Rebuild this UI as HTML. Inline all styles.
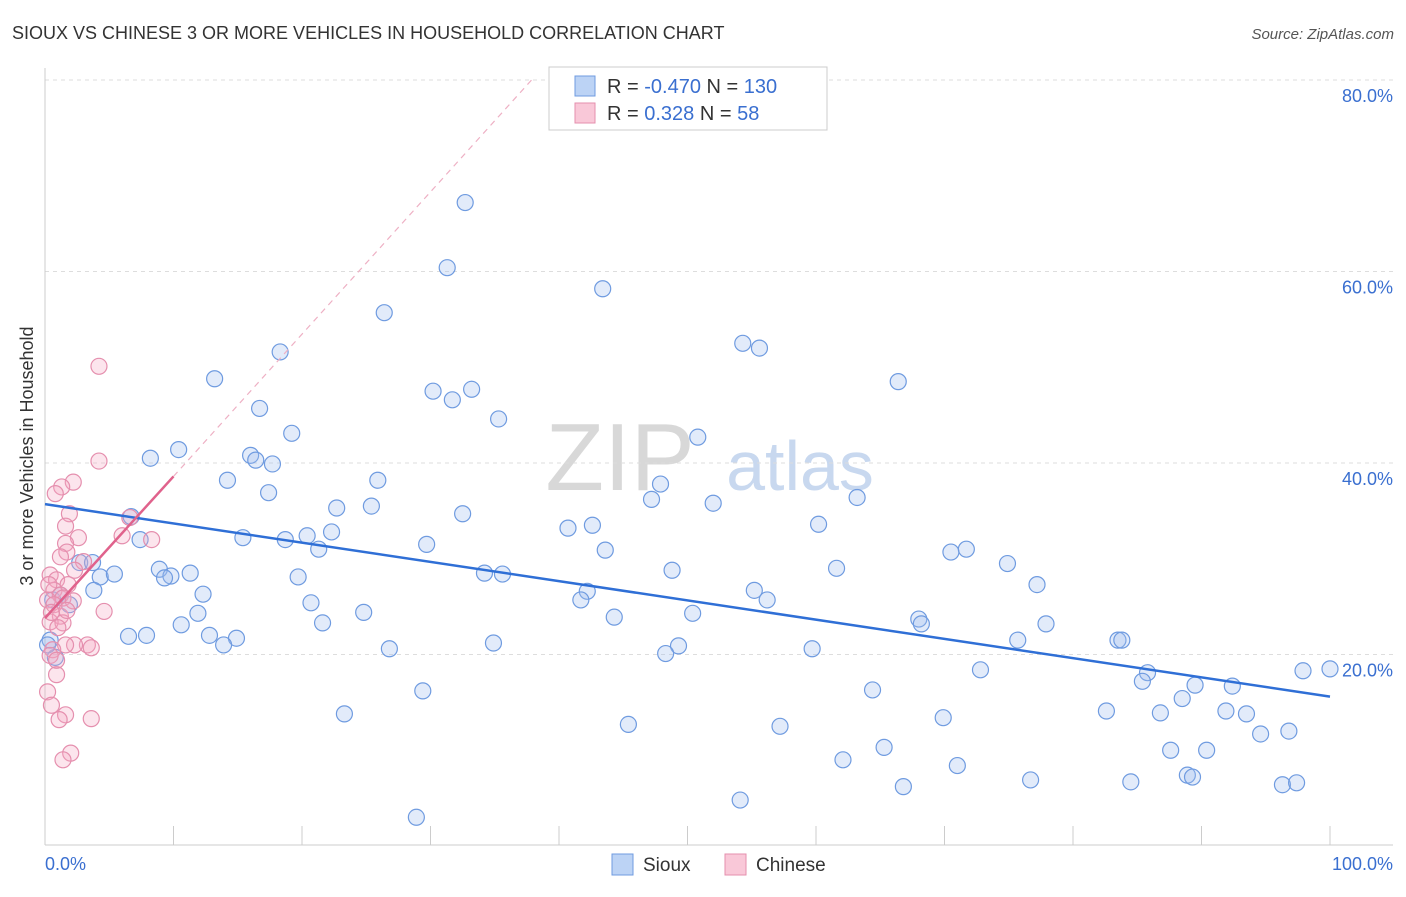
<!DOCTYPE html>
<html><head><meta charset="utf-8">
<style>
body{margin:0;background:#fff;font-family:"Liberation Sans",sans-serif;}
svg text{font-family:"Liberation Sans",sans-serif;}
</style></head>
<body>
<svg id="chart" width="1406" height="892" viewBox="0 0 1406 892" xmlns="http://www.w3.org/2000/svg">
<text x="12" y="39" font-size="18" fill="#333">SIOUX VS CHINESE 3 OR MORE VEHICLES IN HOUSEHOLD CORRELATION CHART</text>
<text x="1394" y="39" font-size="15" fill="#555" text-anchor="end" font-style="italic">Source: ZipAtlas.com</text>
<text transform="translate(33,456) rotate(-90)" font-size="18" fill="#333" text-anchor="middle">3 or more Vehicles in Household</text>
<g>
<text x="620" y="490" font-size="96" fill="#d8d8d8" font-family="Liberation Serif" text-anchor="middle">ZIP</text>
<text x="800" y="490" font-size="70" fill="#c8d8ef" text-anchor="middle">atlas</text>
</g>
<g id="grid"></g>
<g id="axes"></g>
<g id="pts"></g>
<g id="trend"></g>
<g>
<rect x="549" y="67" width="278" height="63" fill="#fff" stroke="#ccc"/>
<rect x="575" y="76" width="20" height="20" fill="#bcd3f5" stroke="#6f9be0"/>
<rect x="575" y="103" width="20" height="20" fill="#f9c8d8" stroke="#e58fae"/>
<text x="607" y="93" font-size="20" fill="#333">R = <tspan fill="#3a6fd0">-0.470</tspan>   N = <tspan fill="#3a6fd0">130</tspan></text>
<text x="607" y="120" font-size="20" fill="#333">R =  <tspan fill="#3a6fd0"> 0.328</tspan>   N =  <tspan fill="#3a6fd0"> 58</tspan></text>
</g>
<g>
<rect x="612" y="854" width="21" height="21" fill="#bcd3f5" stroke="#6f9be0"/>
<text x="643" y="871" font-size="19" fill="#333">Sioux</text>
<rect x="725" y="854" width="21" height="21" fill="#f9c8d8" stroke="#e58fae"/>
<text x="756" y="871" font-size="19" fill="#333">Chinese</text>
</g>
</svg>
<script>
const yTicks=[20,40,60,80];
const yTickLabels=["20.0%","40.0%","60.0%","80.0%"];
const xTicks=[0,10,20,30,40,50,60,70,80,90,100];
const xEndLabels=["0.0%","100.0%"];
const siouxX=[32.7,31.3,43.4,26.4,18.3,54.3,55.6,13.2,66.4,30.2,33.2,31.7,16.7,35.3,19.2,50.8,10.4,8.2,16.0,16.4,17.7,14.2,25.9,17.4,47.9,47.2,63.2,52.0,6.7,32.5,22.7,25.4,40.7,42.6,60.2,7.4,15.4,18.7,20.4,22.3,21.3,29.7,43.6,70.5,71.7,2.7,3.7,74.9,8.9,9.8,9.3,11.3,4.3,5.4,19.7,34.2,35.6,48.8,61.6,77.2,3.8,12.3,42.2,41.7,55.2,56.2,20.7,24.8,50.4,44.3,11.9,10.6,21.6,68.0,68.2,77.9,6.5,7.9,12.8,14.9,13.9,34.9,75.7,83.5,83.8,26.8,49.3,48.3,59.7,72.8,97.9,100,85.8,85.4,89.5,92.4,64.4,29.4,88.5,23.3,69.9,45.4,82.6,86.8,91.9,93.5,57.2,96.8,94.6,65.3,87.6,90.4,62.1,71.0,88.9,89.3,76.7,84.5,96.3,97.4,66.8,54.1,28.9,0.4,0.8,0.6,0.2,1.2,1.9];
const siouxY=[67.2,60.4,58.2,55.7,51.6,52.5,52.0,48.8,48.5,47.5,47.7,46.6,45.7,44.6,43.1,42.7,41.4,40.5,40.8,40.3,39.9,38.2,38.2,36.9,37.8,36.2,36.4,35.8,34.4,34.7,35.3,35.5,33.2,33.5,33.6,32.0,32.2,32.0,32.4,32.8,31.0,31.5,30.9,30.7,31.0,29.6,29.6,29.5,28.9,28.2,28.0,28.5,28.1,28.4,28.1,28.5,28.4,28.8,29.0,27.3,26.7,26.3,26.6,25.7,26.7,25.7,25.4,24.4,24.3,23.9,24.3,23.1,23.3,23.7,23.2,23.2,21.9,22.0,22.0,21.7,21.0,21.2,21.5,21.5,21.5,20.6,20.9,20.1,20.6,18.4,18.3,18.5,18.1,17.2,16.8,16.7,16.3,16.2,15.4,13.8,13.4,12.7,14.1,13.9,14.1,13.8,12.5,12.0,11.7,10.3,10.0,10.0,9.0,8.4,7.4,7.2,6.9,6.7,6.4,6.6,6.2,4.8,3.0,21.5,19.7,25.7,21.0,26.2,25.2];
const chineseX=[4.2,4.2,2.2,1.3,0.8,1.9,1.6,6.0,8.3,2.6,1.6,1.7,3.0,1.2,2.3,0.4,0.9,1.8,0.7,1.2,0.2,1.4,2.2,0.7,4.6,1.2,0.4,1.4,3.3,2.3,3.6,1.6,0.6,0.9,0.2,0.5,1.6,3.6,1.1,2.0,1.4,0.4,0.9,6.6,0.5,1.0,1.7,0.3];
const chineseY=[50.1,40.2,38.0,37.5,36.8,34.7,33.4,32.4,32.0,32.2,31.6,30.7,29.7,30.2,28.8,28.3,27.8,27.3,26.7,26.2,25.7,25.9,25.6,25.2,24.5,24.0,23.4,23.3,21.0,21.0,20.7,21.0,20.5,17.9,16.1,14.7,13.7,13.3,13.2,9.7,9.0,19.9,19.4,34.3,24.4,22.8,24.6,27.3];
const siouxTrend=[[0,35.7],[100,15.6]];
const chineseTrend=[[0,23.8],[10,38.6]];
const chineseDash=[[10,38.6],[38,80.2]];

const NS="http://www.w3.org/2000/svg";
const X0=45,X1=1330,Y0=846,Y80=80;
const sx=v=>X0+(X1-X0)*v/100;
const sy=v=>Y0-(Y0-Y80)*v/80;
function mk(tag,attrs,parent){const e=document.createElementNS(NS,tag);for(const k in attrs)e.setAttribute(k,attrs[k]);parent.appendChild(e);return e;}
const grid=document.getElementById('grid'),axes=document.getElementById('axes'),pts=document.getElementById('pts'),tr=document.getElementById('trend');
yTicks.forEach((t,i)=>{
  const l=mk('line',{x1:45,x2:1393,y1:sy(t),y2:sy(t),stroke:'#ddd','stroke-dasharray':'4,4'},grid);
  
  
  const tx=mk('text',{x:1393,y:sy(t)+22,'font-size':18,fill:'#3a6fd0','text-anchor':'end'},axes);
  tx.textContent=yTickLabels[i];
  
  
});
const al=mk('line',{x1:45,x2:1393,y1:845,y2:845,stroke:'#ccc'},axes);


const vl=mk('line',{x1:45,x2:45,y1:68,y2:845,stroke:'#ccc'},axes);


xTicks.forEach(t=>{
  const l=mk('line',{x1:sx(t),x2:sx(t),y1:826,y2:845,stroke:'#ccc'},axes);
  
  
});
const xl0=mk('text',{x:45,y:870,'font-size':18,fill:'#3a6fd0'},axes);
xl0.textContent=xEndLabels[0];


const xl1=mk('text',{x:1393,y:870,'font-size':18,fill:'#3a6fd0','text-anchor':'end'},axes);
xl1.textContent=xEndLabels[1];


siouxX.forEach((v,i)=>{
  const c=mk('circle',{cx:sx(v),cy:sy(siouxY[i]),r:8,fill:'rgba(160,190,240,0.3)',stroke:'#6f9be0','stroke-width':1.2},pts);
  
  
});
chineseX.forEach((v,i)=>{
  const c=mk('circle',{cx:sx(v),cy:sy(chineseY[i]),r:8,fill:'rgba(245,170,195,0.3)',stroke:'#e58fae','stroke-width':1.2},pts);
  
  
});
const d=mk('line',{x1:sx(chineseDash[0][0]),y1:sy(chineseDash[0][1]),x2:sx(chineseDash[1][0]),y2:sy(chineseDash[1][1]),stroke:'#eeb0c4','stroke-width':1.2,'stroke-dasharray':'6,5'},tr);


const b=mk('line',{x1:sx(siouxTrend[0][0]),y1:sy(siouxTrend[0][1]),x2:sx(siouxTrend[1][0]),y2:sy(siouxTrend[1][1]),stroke:'#2f6fd6','stroke-width':2.5},tr);


const p=mk('line',{x1:sx(chineseTrend[0][0]),y1:sy(chineseTrend[0][1]),x2:sx(chineseTrend[1][0]),y2:sy(chineseTrend[1][1]),stroke:'#e0628c','stroke-width':2.5},tr);


</script>
</body></html>
